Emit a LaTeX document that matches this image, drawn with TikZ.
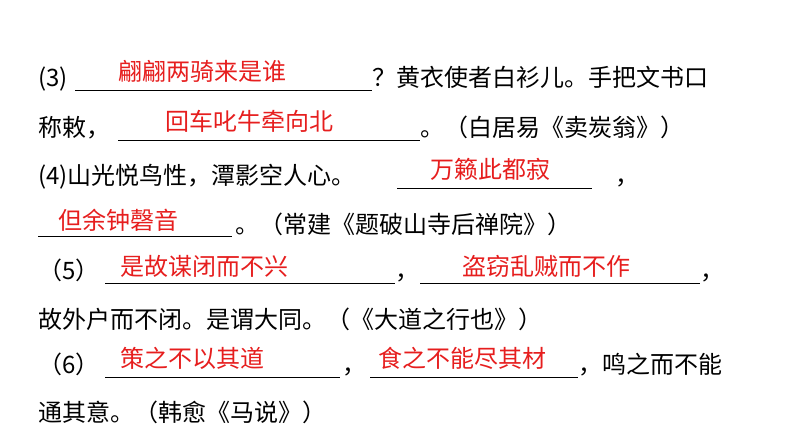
\documentclass[tikz,border=0pt]{standalone}
\usepackage{fontspec}
\setmainfont{Noto Sans CJK SC}
\begin{document}
\begin{tikzpicture}[x=1pt,y=-1pt,
  t/.style={anchor=base west,inner sep=0pt,font=\fontsize{24}{28}\selectfont},
  ans/.style={t,text={rgb,255:red,230;green,30;blue,30}},
  ul/.style={line width=0.7pt}]
\useasboundingbox (0,0) rectangle (794,447);
% line 1
\node[t] (a1) at (38,86) {(3)};
\coordinate (u1a) at (75,90); \coordinate (u1b) at (372,90);
\draw[ul] (u1a) -- (u1b);
\node[ans] (r1) at (118,80) {翩翩两骑来是谁};
\node[t] (a2) at (372,86) {？黄衣使者白衫儿。手把文书口};
% line 2
\node[t] (b1) at (38,136) {称敕，};
\coordinate (u2a) at (118,140); \coordinate (u2b) at (420,140);
\draw[ul] (u2a) -- (u2b);
\node[ans] (r2) at (165,130) {回车叱牛牵向北};
\node[t] (b2) at (420,136) {。（白居易《卖炭翁》）};
% line 3
\node[t] (c1) at (38,184) {(4)山光悦鸟性，潭影空人心。};
\coordinate (u3a) at (397,188); \coordinate (u3b) at (592,188);
\draw[ul] (u3a) -- (u3b);
\node[ans] (r3) at (430,178) {万籁此都寂};
\node[t] (c2) at (615,184) {，};
% line 4
\coordinate (u4a) at (38,236); \coordinate (u4b) at (232,236);
\draw[ul] (u4a) -- (u4b);
\node[ans] (r4) at (58,229) {但余钟磬音};
\node[t] (d1) at (235,233) {。（常建《题破山寺后禅院》）};
% line 5
\node[t] (e1) at (38,279) {（5）};
\coordinate (u5a) at (105,283); \coordinate (u5b) at (395,283);
\draw[ul] (u5a) -- (u5b);
\node[ans] (r5) at (120,275) {是故谋闭而不兴};
\node[t] (e2) at (395,279) {，};
\coordinate (u6a) at (420,283); \coordinate (u6b) at (700,283);
\draw[ul] (u6a) -- (u6b);
\node[ans] (r6) at (462,275) {盗窃乱贼而不作};
\node[t] (e3) at (700,279) {，};
% line 6
\node[t] (f1) at (38,328) {故外户而不闭。是谓大同。（《大道之行也》）};
% line 7
\node[t] (g1) at (38,373) {（6）};
\coordinate (u7a) at (105,377); \coordinate (u7b) at (340,377);
\draw[ul] (u7a) -- (u7b);
\node[ans] (r7) at (120,367) {策之不以其道};
\node[t] (g2) at (342,373) {，};
\coordinate (u8a) at (370,377); \coordinate (u8b) at (578,377);
\draw[ul] (u8a) -- (u8b);
\node[ans] (r8) at (378,367) {食之不能尽其材};
\node[t] (g3) at (578,373) {，鸣之而不能};
% line 8
\node[t] (h1) at (38,421) {通其意。（韩愈《马说》）};
\end{tikzpicture}
\end{document}
